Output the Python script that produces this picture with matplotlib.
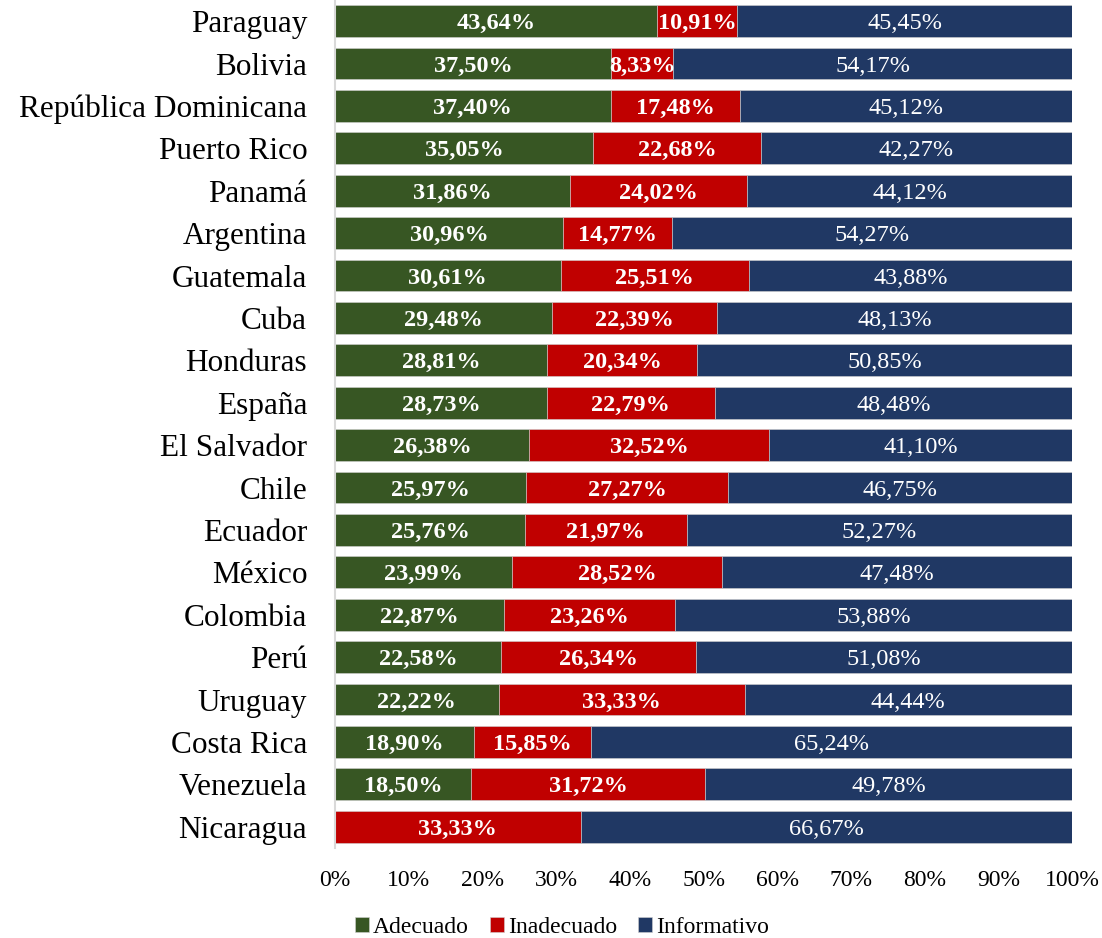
import matplotlib
matplotlib.use("Agg")
import matplotlib.pyplot as plt
import numpy as np

plt.rcParams['font.family'] = ['Liberation Serif', 'DejaVu Serif']

countries = ["Paraguay", "Bolivia", "República Dominicana", "Puerto Rico", "Panamá",
             "Argentina", "Guatemala", "Cuba", "Honduras", "España", "El Salvador",
             "Chile", "Ecuador", "México", "Colombia", "Perú", "Uruguay",
             "Costa Rica", "Venezuela", "Nicaragua"]
adecuado = [43.64, 37.50, 37.40, 35.05, 31.86, 30.96, 30.61, 29.48, 28.81, 28.73,
            26.38, 25.97, 25.76, 23.99, 22.87, 22.58, 22.22, 18.90, 18.50, 0.0]
inadecuado = [10.91, 8.33, 17.48, 22.68, 24.02, 14.77, 25.51, 22.39, 20.34, 22.79,
              32.52, 27.27, 21.97, 28.52, 23.26, 26.34, 33.33, 15.85, 31.72, 33.33]
informativo = [45.45, 54.17, 45.12, 42.27, 44.12, 54.27, 43.88, 48.13, 50.85, 48.48,
               41.10, 46.75, 52.27, 47.48, 53.88, 51.08, 44.44, 65.24, 49.78, 66.67]
series_names = ["Adecuado", "Inadecuado", "Informativo"]
colors = ["#375623", "#C00000", "#203864"]
xticks = [0, 10, 20, 30, 40, 50, 60, 70, 80, 90, 100]

fig = plt.figure(figsize=(11.02, 9.38), dpi=100)
ax = fig.add_axes([0.304, 0.096, 0.669, 0.904])

y = np.arange(len(countries))
left = np.zeros(len(countries))
series = [adecuado, inadecuado, informativo]
weights = ["bold", "bold", "normal"]
for vals, name, c, w in zip(series, series_names, colors, weights):
    vals = np.array(vals)
    ax.barh(y, vals, left=left, height=0.75, color=c, label=name,
            edgecolor="#d0d0d0", linewidth=0.4)
    for yi, (l, v) in enumerate(zip(left, vals)):
        if v > 0:
            ax.text(l + v / 2, yi, f"{v:.2f}%".replace(".", ","), ha="center",
                    va="center_baseline", color="white", fontsize=17.5, fontweight=w)
    left = left + vals

ax.set_ylim(len(countries) - 0.5, -0.5)
ax.set_xlim(0, 100)
ax.set_yticks(y)
ax.set_yticklabels(countries, fontsize=22.5, va="center_baseline")
ax.set_xticks(xticks)
ax.set_xticklabels([f"{t}%" for t in xticks], fontsize=17)
ax.tick_params(axis="both", length=0)
ax.tick_params(axis="x", pad=16)
ax.tick_params(axis="y", pad=20)
for s in ["top", "right", "bottom"]:
    ax.spines[s].set_visible(False)
ax.spines["left"].set_color("#d9d9d9")
ax.spines["left"].set_linewidth(1.5)

fig.legend(loc="center", bbox_to_anchor=(0.51, 0.011), ncol=3, frameon=False,
           fontsize=17, handlelength=0.6, handleheight=0.6, handletextpad=0.15,
           columnspacing=0.9, borderaxespad=0)

fig.savefig("out.png", dpi=100)
